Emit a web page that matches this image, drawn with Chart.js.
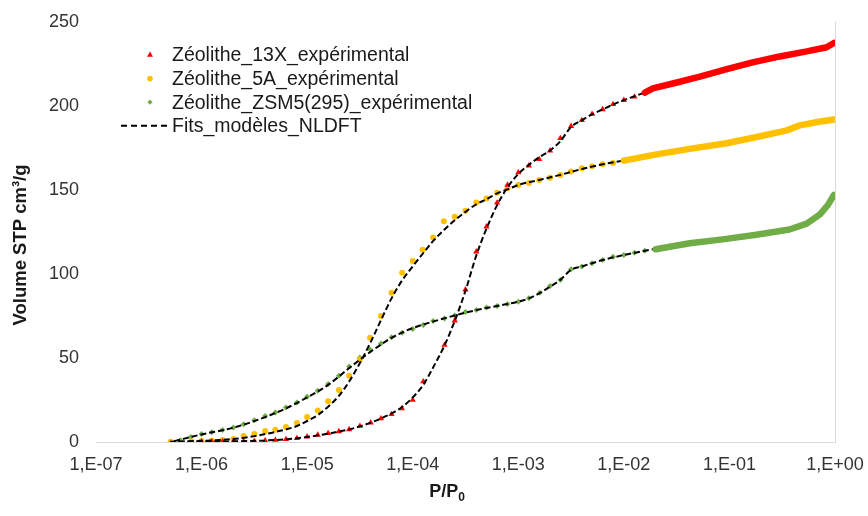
<!DOCTYPE html>
<html>
<head>
<meta charset="utf-8">
<script src="https://cdn.jsdelivr.net/npm/chart.js@4.4.1/dist/chart.umd.min.js"></script>
<style>
  html, body { margin: 0; padding: 0; background: #fff; }
  #wrap { width: 868px; height: 516px; }
</style>
</head>
<body>
<div id="wrap"><canvas id="chart"></canvas></div>
<script>
// Axis ticks
const xTickValues = [1e-7, 1e-6, 1e-5, 1e-4, 1e-3, 1e-2, 1e-1, 1];
const xTickLabels = ["1,E-07", "1,E-06", "1,E-05", "1,E-04", "1,E-03", "1,E-02", "1,E-01", "1,E+00"];
const yTicks = [0, 50, 100, 150, 200, 250];

const legendLabels = [
  "Zéolithe_13X_expérimental",
  "Zéolithe_5A_expérimental",
  "Zéolithe_ZSM5(295)_expérimental",
  "Fits_modèles_NLDFT",
];

// Zéolithe 13X, experimental points (P/P0 ; cm3/g)
const p13X = [1.0e-6, 1.25e-6, 1.58e-6, 2.0e-6, 2.5e-6, 3.16e-6, 4.0e-6, 5.0e-6, 6.3e-6, 8.0e-6,
  1.0e-5, 1.26e-5, 1.58e-5, 2.0e-5, 2.5e-5, 3.16e-5, 4.0e-5, 5.0e-5, 6.3e-5, 7.9e-5,
  1.0e-4, 1.26e-4, 2.0e-4, 2.5e-4, 3.16e-4, 4.0e-4, 5.0e-4, 6.3e-4, 7.9e-4,
  1.0e-3, 1.26e-3, 1.58e-3, 2.0e-3, 2.5e-3, 3.16e-3, 4.0e-3, 5.0e-3, 6.3e-3, 7.9e-3,
  1.0e-2, 1.26e-2, 1.58e-2];
const v13X = [0.2, 0.2, 0.2, 0.3, 0.4, 0.6, 0.9, 1.2, 1.6, 2.2,
  3.2, 4.2, 5.2, 6.3, 7.5, 9.5, 11.5, 14, 16.5, 20,
  25, 36, 57.7, 72.2, 90.7, 113.3, 128.2, 142.4, 153,
  160.4, 164.5, 168.3, 173.4, 180.8, 188, 191.5, 195.2, 198, 201,
  203.5, 205.5, 208];
// dense measurement tail (markers merge into a band)
const p13XTail = [0.0158, 0.0188, 0.0318, 0.0525, 0.0944, 0.166, 0.30, 0.54, 0.835, 0.975];
const v13XTail = [208, 210.5, 214, 217.5, 222, 226, 229.5, 232.5, 235, 237.5];

// Zéolithe 5A
const p5A = [5.1e-7, 8.0e-7, 1.0e-6, 1.25e-6, 1.58e-6, 2.0e-6, 2.5e-6, 3.16e-6, 4.0e-6, 5.0e-6, 6.3e-6, 8.0e-6,
  1.0e-5, 1.26e-5, 1.58e-5, 2.0e-5, 2.5e-5, 3.16e-5, 3.94e-5, 5.0e-5, 6.3e-5, 7.95e-5,
  1.0e-4, 1.24e-4, 1.56e-4, 1.97e-4, 2.5e-4, 3.16e-4, 4.0e-4, 5.0e-4, 6.3e-4, 7.9e-4,
  1.0e-3, 1.26e-3, 1.58e-3, 2.0e-3, 2.5e-3, 3.16e-3, 4.0e-3, 5.0e-3, 6.3e-3, 7.9e-3, 1.0e-2];
const v5A = [0.1, 0.3, 0.6, 0.8, 1.2, 1.8, 3.6, 4.8, 6.5, 7.3, 8.9, 11.3,
  14.9, 18.7, 24.2, 31, 39.5, 49.2, 62.1, 75, 88.9, 100.8,
  107.8, 114.5, 121.8, 131.4, 134.1, 137.6, 142.5, 145, 148.4, 151,
  153, 154.2, 156, 157.3, 158.9, 161, 162.9, 164.1, 165.4, 166.1, 167.5];
const p5ATail = [0.01, 0.0204, 0.045, 0.094, 0.186, 0.35, 0.465, 0.68, 0.98];
const v5ATail = [167.5, 171.2, 174.8, 177.8, 181.7, 185.5, 188.5, 190.5, 192];

// Zéolithe ZSM5(295)
const pZSM5 = [6.3e-7, 7.9e-7, 1.0e-6, 1.25e-6, 1.58e-6, 2.0e-6, 2.5e-6, 3.16e-6, 4.0e-6, 5.0e-6, 6.3e-6, 8.0e-6,
  1.0e-5, 1.26e-5, 1.58e-5, 2.0e-5, 2.5e-5, 3.16e-5, 3.94e-5, 5.0e-5, 6.3e-5, 7.95e-5,
  1.0e-4, 1.26e-4, 1.56e-4, 2.0e-4, 2.5e-4, 3.16e-4, 4.0e-4, 5.0e-4, 6.3e-4, 7.9e-4,
  1.0e-3, 1.26e-3, 1.6e-3, 2.0e-3, 2.5e-3, 3.16e-3, 4.0e-3, 5.0e-3, 6.3e-3, 7.9e-3,
  1.0e-2, 1.26e-2, 1.58e-2, 2.0e-2];
const vZSM5 = [1, 3, 4.8, 5.8, 7.1, 8.7, 10.5, 13, 15.5, 17.5, 20.5, 23.5,
  27, 30.5, 34.5, 39.5, 45, 50.3, 55, 58.7, 62.3, 65.1,
  67.3, 69.6, 72, 73.5, 75.3, 77.4, 78.6, 80, 81, 82.1,
  83.5, 85.5, 88.9, 92.9, 96.4, 102.8, 104.4, 106.4, 108.3, 110.3,
  111.3, 112.7, 113.9, 114.7];
const pZSM5Tail = [0.02, 0.042, 0.086, 0.18, 0.37, 0.54, 0.72, 0.855, 0.977];
const vZSM5Tail = [114.7, 118.3, 120.6, 123.4, 126.5, 130, 135.5, 141, 147];

// NLDFT fits
const pFit13X = [6e-7, 1e-6, 2e-6, 4e-6, 6.3e-6, 1e-5, 1.58e-5, 2.5e-5, 3.16e-5, 4e-5, 5e-5, 6.3e-5, 8e-5,
  1e-4, 1.26e-4, 1.58e-4, 2e-4, 2.5e-4, 3.16e-4, 4e-4, 5e-4, 6.3e-4, 8e-4,
  1e-3, 1.26e-3, 1.58e-3, 2e-3, 2.5e-3, 3.16e-3, 4e-3, 5e-3, 6.3e-3, 8e-3, 1e-2, 1.58e-2, 2.5e-2];
const vFit13X = [0, 0.2, 0.4, 0.9, 1.6, 3, 5, 7.5, 9.3, 11.5, 14, 17, 21,
  26.5, 34, 45, 57.5, 72, 90, 111, 127, 141, 152,
  159.5, 165, 169.5, 173.5, 179, 187.5, 191.5, 195, 198, 201, 203.5, 208, 212.5];

const pFit5A = [5e-7, 1e-6, 2e-6, 3.16e-6, 5e-6, 8e-6, 1e-5, 1.26e-5, 1.58e-5, 2e-5, 2.5e-5, 3.16e-5, 4e-5,
  5e-5, 6.3e-5, 8e-5, 1e-4, 1.26e-4, 1.58e-4, 2e-4, 2.5e-4, 3.16e-4, 4e-4, 5e-4, 6.3e-4, 8e-4,
  1e-3, 1.58e-3, 2.5e-3, 4e-3, 6.3e-3, 1e-2, 1.58e-2, 2.5e-2];
const vFit5A = [0.2, 0.7, 1.8, 3.5, 6, 9.5, 12.5, 16, 21, 27.5, 36, 47, 59.5,
  72.5, 85.5, 96.5, 104.5, 112.5, 120, 126.5, 132, 137, 141.5, 144.5, 148, 150.5,
  153, 156, 159, 162.5, 165.3, 167.5, 170, 172];

const pFitZSM5 = [5.5e-7, 1e-6, 2e-6, 4e-6, 6.3e-6, 1e-5, 1.58e-5, 2.5e-5, 3.16e-5, 4e-5, 5e-5, 6.3e-5, 8e-5,
  1e-4, 1.58e-4, 2.5e-4, 4e-4, 6.3e-4, 1e-3, 1.26e-3, 1.58e-3, 2e-3, 2.5e-3, 3.16e-3, 4e-3, 6.3e-3,
  1e-2, 1.58e-2, 2.5e-2];
const vFitZSM5 = [0.5, 4.5, 8.5, 14.8, 20, 26.5, 34, 44, 49, 53.8, 58, 62, 65.3,
  67.8, 71.8, 75.3, 78.5, 81, 83.5, 85.5, 88.5, 92.5, 96.5, 102.5, 104.5, 108.3,
  111.3, 113.8, 116];

const red = "#FF0000";
const yellow = "#FFC000";
const green = "#70AD47";
const font = '"Liberation Sans", Arial, sans-serif';

const toPoints = (xs, ys) => xs.map((x, i) => ({ x, y: ys[i] }));

const markers = (label, xs, ys, color, pointStyle, radius) => ({
  label,
  data: toPoints(xs, ys),
  showLine: false,
  order: 2,
  pointStyle,
  pointRadius: radius,
  pointBackgroundColor: color,
  pointBorderColor: color,
  pointBorderWidth: 0,
});

const tail = (xs, ys, color) => ({
  data: toPoints(xs, ys),
  showLine: true,
  order: 0,
  borderColor: color,
  borderWidth: 6.5,
  borderCapStyle: "round",
  borderJoinStyle: "round",
  pointRadius: 0,
});

const fit = (xs, ys) => ({
  data: toPoints(xs, ys),
  showLine: true,
  order: 1,
  borderColor: "#000000",
  borderWidth: 2,
  borderDash: [6, 3],
  cubicInterpolationMode: "monotone",
  pointRadius: 0,
});

// Legend drawn inside the plot area, top left
const insideLegend = {
  id: "insideLegend",
  afterDraw(chart) {
    const { ctx } = chart;
    const styles = [
      { pointStyle: "triangle", color: red, radius: 3.5 },
      { pointStyle: "circle", color: yellow, radius: 2.8 },
      { pointStyle: "rectRot", color: green, radius: 2.6 },
    ];
    ctx.save();
    ctx.font = `19.5px ${font}`;
    ctx.textBaseline = "middle";
    legendLabels.forEach((label, i) => {
      const y = 55 + i * 23.6;
      const s = styles[i];
      if (s) {
        ctx.fillStyle = s.color;
        ctx.strokeStyle = s.color;
        Chart.helpers.drawPoint(ctx, { pointStyle: s.pointStyle, radius: s.radius, rotation: 0, borderWidth: 0 }, 150, y);
      } else {
        ctx.strokeStyle = "#000";
        ctx.lineWidth = 2;
        ctx.setLineDash([6, 4]);
        ctx.beginPath();
        ctx.moveTo(121, y);
        ctx.lineTo(169, y);
        ctx.stroke();
        ctx.setLineDash([]);
      }
      ctx.fillStyle = "#1a1a1a";
      ctx.fillText(label, 172, y + 1);
    });
    ctx.restore();
  },
};

// Axis titles placed as in the original figure
const axisTitles = {
  id: "axisTitles",
  afterDraw(chart) {
    const { ctx } = chart;
    ctx.save();
    ctx.fillStyle = "#1a1a1a";
    ctx.font = `bold 18.5px ${font}`;
    ctx.textAlign = "center";
    ctx.textBaseline = "middle";
    ctx.translate(21, 245);
    ctx.rotate(-Math.PI / 2);
    ctx.fillText("Volume STP cm³/g", 0, 0);
    ctx.restore();

    ctx.save();
    ctx.fillStyle = "#1a1a1a";
    ctx.textBaseline = "alphabetic";
    ctx.font = `bold 18px ${font}`;
    const main = "P/P";
    const w1 = ctx.measureText(main).width;
    ctx.font = `bold 12px ${font}`;
    const w2 = ctx.measureText("0").width;
    const x0 = 447 - (w1 + w2) / 2;
    ctx.font = `bold 18px ${font}`;
    ctx.fillText(main, x0, 497);
    ctx.font = `bold 12px ${font}`;
    ctx.fillText("0", x0 + w1, 501);
    ctx.restore();
  },
};

new Chart(document.getElementById("chart"), {
  type: "scatter",
  data: {
    datasets: [
      markers(legendLabels[0], p13X, v13X, red, "triangle", 3.6),
      markers(legendLabels[1], p5A, v5A, yellow, "circle", 3),
      markers(legendLabels[2], pZSM5, vZSM5, green, "rectRot", 3),
      tail(p13XTail, v13XTail, red),
      tail(p5ATail, v5ATail, yellow),
      tail(pZSM5Tail, vZSM5Tail, green),
      fit(pFit13X, vFit13X),
      fit(pFit5A, vFit5A),
      fit(pFitZSM5, vFitZSM5),
    ],
  },
  options: {
    responsive: true,
    maintainAspectRatio: false,
    animation: false,
    layout: { padding: { top: 22, right: 33, left: 0, bottom: 0 } },
    plugins: {
      legend: { display: false },
      tooltip: { enabled: false },
    },
    scales: {
      x: {
        type: "logarithmic",
        min: xTickValues[0],
        max: xTickValues[xTickValues.length - 1],
        afterBuildTicks: (scale) => {
          scale.ticks = xTickValues.map((value) => ({ value }));
        },
        afterFit: (scale) => {
          scale.height = 74;
          scale.paddingLeft = 0;
          scale.paddingRight = 0;
        },
        ticks: {
          autoSkip: false,
          maxRotation: 0,
          padding: 12,
          color: "#333333",
          font: { family: font, size: 18 },
          callback: (value) => xTickLabels[xTickValues.indexOf(value)] ?? "",
        },
        grid: {
          drawTicks: false,
          color: (ctx) => (ctx.tick && ctx.tick.value === 1 ? "#d9d9d9" : "rgba(0,0,0,0)"),
        },
        border: { display: true, color: "#d9d9d9", width: 1 },
      },
      y: {
        min: yTicks[0],
        max: yTicks[yTicks.length - 1],
        afterBuildTicks: (scale) => {
          scale.ticks = yTicks.map((value) => ({ value }));
        },
        afterFit: (scale) => {
          scale.width = 96;
          scale.paddingTop = 0;
          scale.paddingBottom = 0;
        },
        ticks: {
          padding: 17,
          color: "#333333",
          font: { family: font, size: 18 },
        },
        grid: { display: false, drawTicks: false },
        border: { display: false },
      },
    },
  },
  plugins: [insideLegend, axisTitles],
});
</script>
</body>
</html>
